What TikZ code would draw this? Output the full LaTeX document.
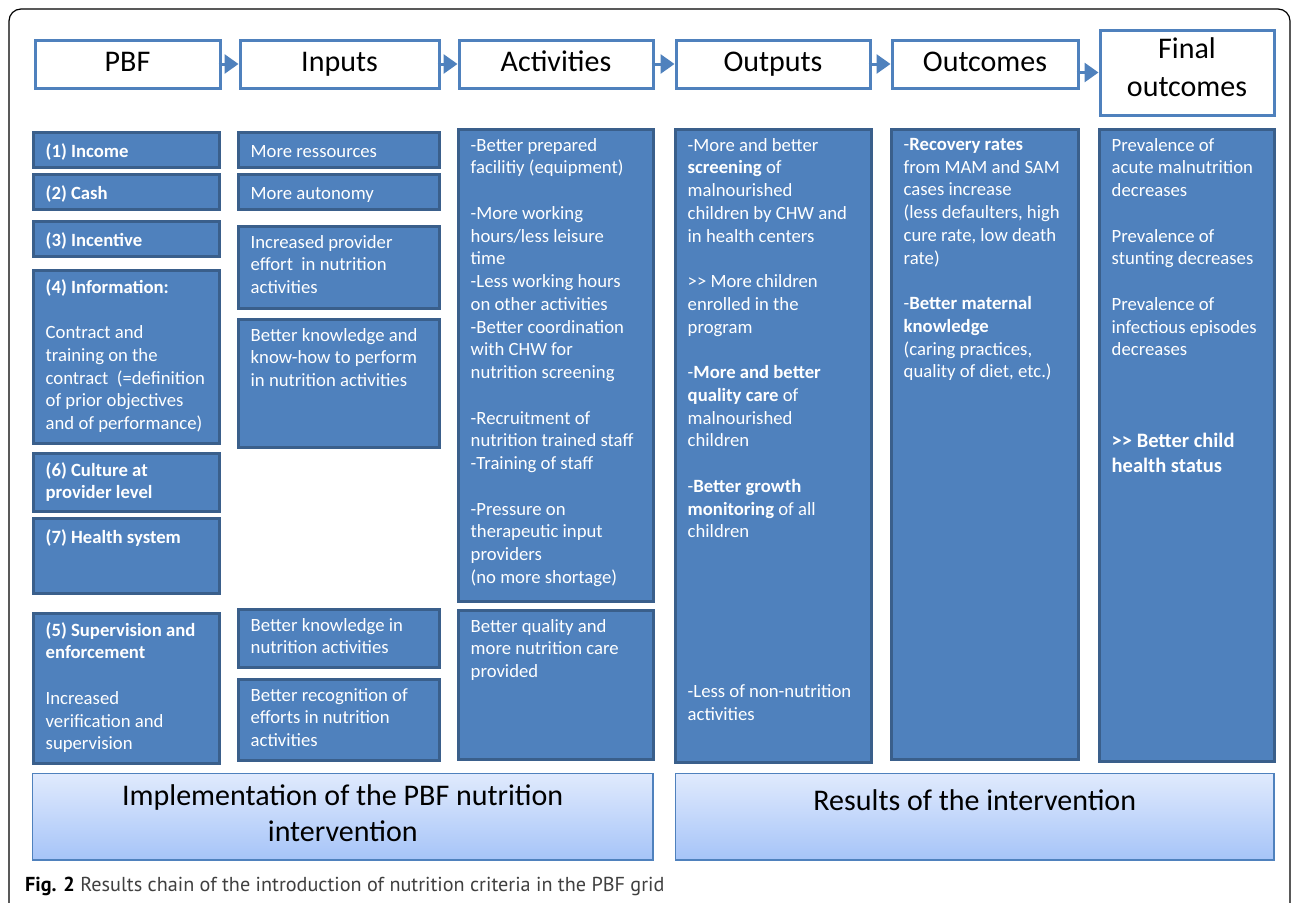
\documentclass[tikz,border=0pt]{standalone}
\usepackage{fontspec}
\setmainfont{Carlito}
\newfontfamily\capfont{PT Sans}
\usetikzlibrary{arrows.meta,positioning}

\definecolor{pbfblue}{HTML}{4F81BD}
\definecolor{pbfedge}{HTML}{3A5F8B}
\definecolor{bandtop}{HTML}{E0EAFD}
\definecolor{bandbot}{HTML}{A6C4F8}
\definecolor{capgray}{HTML}{404040}

\tikzset{
  headbox/.style={draw=pbfblue, line width=3pt, fill=white, anchor=north west, inner sep=0pt,
    align=center, font=\fontsize{30}{37.5}\selectfont, execute at begin node=\strut},
  colbox/.style={draw=pbfedge, line width=3pt, fill=pbfblue, anchor=north west, inner sep=0pt},
  boxtext/.style={anchor=north west, inner sep=0pt, align=left, text=white,
    font=\fontsize{18.7}{22.75}\selectfont, execute at begin node=\strut},
  bandbox/.style={draw=pbfblue, line width=1.5pt, top color=bandtop, bottom color=bandbot,
    anchor=north west, inner sep=0pt},
  bandtext/.style={anchor=north, inner sep=0pt, align=center, font=\fontsize{30}{36}\selectfont,
    execute at begin node=\strut},
  chainarrow/.style={draw=pbfblue, line width=3pt, -{Triangle[length=14pt,width=19pt]}, shorten <=-3pt},
}

\begin{document}
\begin{tikzpicture}[x=1pt,y=-1pt]
\useasboundingbox (0,0) rectangle (1292,902);
\fill [white] (0,0) rectangle (1292,902);
\clip (0,0) rectangle (1292,902);

% outer frame, open at the bottom
\draw [line width=1.2pt, rounded corners=12pt] (9,920) -- (9,9) -- (1290,9) -- (1290,920);

\newcommand\headnode[6]{%
\node [headbox, minimum width=#4pt-3pt, minimum height=#5pt-3pt] (#1) at (#2+1.5,#3+1.5) {#6};%
}
\newcommand\colnode[6]{%
\node [colbox, minimum width=#4pt-3pt, minimum height=#5pt-3pt] (#1) at (#2+1.5,#3+1.5) {};%
\node [boxtext] (#1-txt) at ([xshift=14pt,yshift=-10.5pt]#1.north west) {#6};%
}
\newcommand\bandnode[6]{%
\node [bandbox, minimum width=#4pt-1.5pt, minimum height=#5pt-1.5pt] (#1) at (#2+.75,#3+.75) {};%
\node [bandtext] (#1-txt) at ([yshift=-12pt]#1.north) {#6};%
}

% header chain
\headnode{pbf}{32}{37}{188}{51}{PBF}
\headnode{inp}{237}{37}{202}{51}{Inputs}
\headnode{act}{456}{37}{197}{51}{Activities}
\headnode{outp}{673}{37}{197}{51}{Outputs}
\headnode{outc}{889}{37}{189}{51}{Outcomes}
\headnode{fin}{1097}{27}{177}{88}{Final\\outcomes}
\draw [chainarrow] (pbf.east) -- (inp.west);
\draw [chainarrow] (inp.east) -- (act.west);
\draw [chainarrow] (act.east) -- (outp.west);
\draw [chainarrow] (outp.east) -- (outc.west);
\draw [chainarrow] (outc.east |- fin.west) -- (fin.west);

% PBF column
\colnode{inc}{30}{129}{189}{38}{\textbf{(1) Income}}
\colnode{cash}{30}{171}{189}{38}{\textbf{(2) Cash}}
\colnode{incv}{30}{218}{189}{38}{\textbf{(3) Incentive}}
\colnode{info}{30}{267}{189}{176}{\textbf{(4) Information:}\\[22.75pt]Contract and\\training on the\\contract~ (=definition\\of prior objectives\\and of performance)}
\colnode{cult}{30}{450}{189}{61}{\textbf{(6) Culture at}\\\textbf{provider level}}
\colnode{hsys}{30}{515}{189}{78}{\textbf{(7) Health system}}
\colnode{sup}{30}{610}{189}{153}{\textbf{(5) Supervision and}\\\textbf{enforcement}\\[22.75pt]Increased\\verification and\\supervision}

% Inputs column
\colnode{res}{235}{129}{204}{38}{More ressources}
\colnode{aut}{235}{171}{204}{38}{More autonomy}
\colnode{eff}{235}{223}{204}{85}{Increased provider\\effort~ in nutrition\\activities}
\colnode{know}{235}{316}{204}{131}{Better knowledge and\\know-how to perform\\in nutrition activities}
\colnode{knowin}{235}{606}{204}{61}{Better knowledge in\\nutrition activities}
\colnode{recog}{235}{676}{204}{84}{Better recognition of\\efforts in nutrition\\activities}

% Activities column
\colnode{acts}{455}{126}{198}{475}{-Better prepared\\facilitiy (equipment)\\[22.75pt]-More working\\hours/less leisure\\time\\-Less working hours\\on other activities\\-Better coordination\\with CHW for\\nutrition screening\\[22.75pt]-Recruitment of\\nutrition trained staff\\-Training of staff\\[22.75pt]-Pressure on\\therapeutic input\\providers\\(no more shortage)}
\colnode{qual}{455}{607}{198}{152}{Better quality and\\more nutrition care\\provided}

% Outputs column
\colnode{outs}{672}{126}{199}{636}{-More and better\\\textbf{screening} of\\malnourished\\children by CHW and\\in health centers\\[22.75pt]>{}> More children\\enrolled in the\\program\\[22.75pt]-\textbf{More and better}\\\textbf{quality care} of\\malnourished\\children\\[22.75pt]-\textbf{Better growth}\\\textbf{monitoring} of all\\children}
\node [boxtext] (outs-less) at ([xshift=14pt,yshift=-557pt]outs.north west) {-Less of non-nutrition\\activities};

% Outcomes column
\colnode{outcs}{888}{126}{190}{633}{-\textbf{Recovery rates}\\from MAM and SAM\\cases increase\\(less defaulters, high\\cure rate, low death\\rate)\\[22.75pt]-\textbf{Better maternal}\\\textbf{knowledge}\\(caring practices,\\quality of diet, etc.)}

% Final outcomes column
\colnode{fins}{1096}{126}{178}{635}{Prevalence of\\acute malnutrition\\decreases\\[22.75pt]Prevalence of\\stunting decreases\\[22.75pt]Prevalence of\\infectious episodes\\decreases}
\node [boxtext, font=\fontsize{20.5}{25}\selectfont] (fins-child) at ([xshift=14pt,yshift=-305.5pt]fins.north west) {\textbf{>{}> Better child}\\\textbf{health status}};

% bottom bands
\bandnode{impl}{31}{772}{622}{88}{Implementation of the PBF nutrition\\intervention}
\bandnode{resl}{674}{772}{600}{88}{Results of the intervention}

% caption
\node [anchor=base west, inner sep=0pt, text=capgray, font=\capfont\fontsize{20.2}{24}\selectfont] (cap) at (25,891)
  {\textcolor{black}{\textbf{Fig. 2}} Results chain of the introduction of nutrition criteria in the PBF grid};
\end{tikzpicture}
\end{document}
